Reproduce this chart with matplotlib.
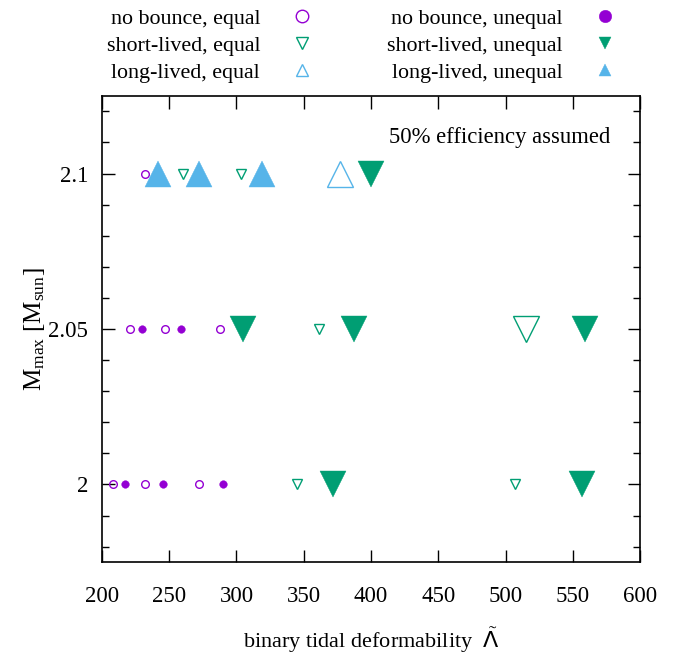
import matplotlib
matplotlib.use('Agg')
import matplotlib.pyplot as plt
from matplotlib.ticker import MultipleLocator

plt.rcParams['font.family'] = ['Liberation Serif', 'DejaVu Serif']
plt.rcParams['mathtext.fontset'] = 'custom'
plt.rcParams['mathtext.rm'] = 'Liberation Serif'
plt.rcParams['mathtext.it'] = 'Liberation Serif:italic'
plt.rcParams['mathtext.sf'] = 'DejaVu Sans'

# data; "big" marks the large symbols
nb_eq_x = [208, 232, 272, 221, 247, 288, 232]
nb_eq_y = [2.0, 2.0, 2.0, 2.05, 2.05, 2.05, 2.1]
nb_eq_big = [0, 0, 0, 0, 0, 0, 0]

nb_uneq_x = [217, 245, 290, 230, 259]
nb_uneq_y = [2.0, 2.0, 2.0, 2.05, 2.05]
nb_uneq_big = [0, 0, 0, 0, 0]

sl_eq_x = [345, 507, 361, 515, 260, 303]
sl_eq_y = [2.0, 2.0, 2.05, 2.05, 2.1, 2.1]
sl_eq_big = [0, 0, 0, 1, 0, 0]

sl_uneq_x = [372, 557, 305, 387, 559, 400]
sl_uneq_y = [2.0, 2.0, 2.05, 2.05, 2.05, 2.1]
sl_uneq_big = [1, 1, 1, 1, 1, 1]

ll_eq_x = [377]
ll_eq_y = [2.1]
ll_eq_big = [1]

ll_uneq_x = [242, 272, 319]
ll_uneq_y = [2.1, 2.1, 2.1]
ll_uneq_big = [1, 1, 1]

purple = '#9400D3'
green = '#009E73'
blue = '#56B4E9'

fig = plt.figure(figsize=(6.89, 6.56), dpi=100)
ax = fig.add_axes([0.148, 0.143, 0.781, 0.711])

def draw(xs, ys, big, marker, color, filled, small_ms, label):
    for x, y, b in zip(xs, ys, big):
        ms = 19 if b else small_ms
        ax.plot([x], [y], linestyle='none', marker=marker, markersize=ms,
                markerfacecolor=color if filled else 'none',
                markeredgecolor=color, markeredgewidth=0.3 if filled else 1.0)
    # legend proxy
    return ax.plot([], [], linestyle='none', marker=marker, markersize=9,
                   markerfacecolor=color if filled else 'none',
                   markeredgecolor=color, markeredgewidth=0.3 if filled else 1.0,
                   label=label)[0]

h1 = draw(nb_eq_x, nb_eq_y, nb_eq_big, 'o', purple, False, 5.5, 'no bounce, equal')
h2 = draw(sl_eq_x, sl_eq_y, sl_eq_big, 'v', green, False, 6.5, 'short-lived, equal')
h3 = draw(ll_eq_x, ll_eq_y, ll_eq_big, '^', blue, False, 6.5, 'long-lived, equal')
h4 = draw(nb_uneq_x, nb_uneq_y, nb_uneq_big, 'o', purple, True, 5.5, 'no bounce, unequal')
h5 = draw(sl_uneq_x, sl_uneq_y, sl_uneq_big, 'v', green, True, 6.5, 'short-lived, unequal')
h6 = draw(ll_uneq_x, ll_uneq_y, ll_uneq_big, '^', blue, True, 6.5, 'long-lived, unequal')

ax.set_xlim(200, 600)
ax.set_ylim(1.975, 2.125)
ax.set_xticks([200, 250, 300, 350, 400, 450, 500, 550, 600])
ax.set_yticks([2.0, 2.05, 2.1])
ax.set_yticklabels(['2', '2.05', '2.1'])
ax.yaxis.set_minor_locator(MultipleLocator(0.01))
ax.tick_params(which='both', direction='in', top=True, right=True, labelsize=16.5)
ax.tick_params(axis='x', pad=17)
ax.tick_params(axis='y', pad=10)
ax.tick_params(which='major', length=9, width=1.0)
ax.tick_params(which='minor', length=5, width=1.0)
for s in ax.spines.values():
    s.set_linewidth(1.2)

ax.set_xlabel(r'binary tidal deformability  $\tilde{\mathsf{\Lambda}}$', fontsize=16, labelpad=13)
ax.set_ylabel(r'M$_{\rm max}$ [M$_{\rm sun}$]', fontsize=18, labelpad=1)

ax.text(578, 2.1116, '50% efficiency assumed', fontsize=16.3, ha='right', va='center')

fig.legend(handles=[h1, h2, h3, h4, h5, h6], ncol=2, loc='upper center',
           bbox_to_anchor=(0.532, 1.017), frameon=False, fontsize=15.8,
           markerfirst=False, handlelength=2.0, handletextpad=0.9,
           columnspacing=2.9, labelspacing=0.3)

fig.savefig('out.png', dpi=100)
